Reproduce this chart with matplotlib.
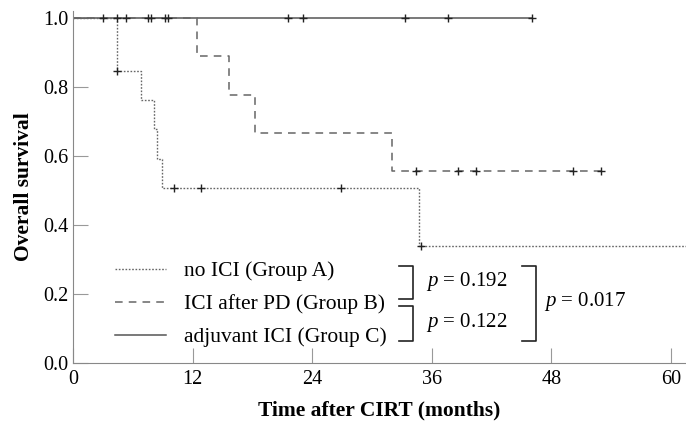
import matplotlib.pyplot as plt
from matplotlib.lines import Line2D

plt.rcParams["font.family"] = ["Liberation Serif", "DejaVu Serif"]
plt.rcParams["mathtext.fontset"] = "custom"
plt.rcParams["mathtext.it"] = "Liberation Serif:italic"
plt.rcParams["mathtext.rm"] = "Liberation Serif"

# Kaplan-Meier steps
a_times = [0, 4.4, 6.8, 8.1, 8.4, 8.9, 34.7, 61.5]
a_surv = [1.0, 0.846, 0.761, 0.677, 0.592, 0.507, 0.338, 0.338]
a_cens_t = [4.4, 10.1, 12.8, 26.9, 34.9]
a_cens_s = [0.846, 0.507, 0.507, 0.507, 0.338]

b_times = [0, 12.4, 15.7, 18.3, 32.0, 53.0]
b_surv = [1.0, 0.889, 0.778, 0.667, 0.556, 0.556]
b_cens_t = [34.4, 38.6, 40.4, 50.2, 53.0]
b_cens_s = [0.556, 0.556, 0.556, 0.556, 0.556]

c_times = [0, 46.1]
c_surv = [1.0, 1.0]
c_cens_t = [3.0, 4.4, 5.3, 7.5, 7.8, 9.2, 9.5, 21.6, 23.1, 33.3, 37.6, 46.1]
c_cens_s = [1.0] * len(c_cens_t)

labels = ["no ICI (Group A)", "ICI after PD (Group B)", "adjuvant ICI (Group C)"]
p_pair = ["$p$ = 0.192", "$p$ = 0.122"]
p_all = "$p$ = 0.017"

fig = plt.figure(figsize=(6.86, 4.21), dpi=100)
ax = fig.add_axes([0.1064, 0.1378, 0.8936, 0.836])

gray = "#666666"
ax.step(c_times, c_surv, where="post", color="#555555", lw=1.1, ls="-")
ax.step(b_times, b_surv, where="post", color=gray, lw=1.1, ls=(0, (5, 4)))
ax.step(a_times, a_surv, where="post", color=gray, lw=1.0, ls=(0, (1.2, 1.2)))
for t, s in [(a_cens_t, a_cens_s), (b_cens_t, b_cens_s), (c_cens_t, c_cens_s)]:
    ax.plot(t, s, ls="none", marker="+", color="#222222", ms=6, mew=1.0)

ax.set_xlim(0, 61.5)
ax.set_ylim(0, 1.02)
ax.set_xticks([0, 12, 24, 36, 48, 60])
ax.set_yticks([0.0, 0.2, 0.4, 0.6, 0.8, 1.0])
ax.set_yticklabels(["0.0", "0.2", "0.4", "0.6", "0.8", "1.0"])
ax.tick_params(direction="in", length=11, color="#999999", labelsize=14.5, pad=3)
ax.tick_params(axis="x", pad=5)
for side in ["top", "right"]:
    ax.spines[side].set_visible(False)
for side in ["left", "bottom"]:
    ax.spines[side].set_color("#888888")

ax.set_xlabel("Time after CIRT (months)", fontsize=15.5, fontweight="bold", labelpad=8)
ax.set_ylabel("Overall survival", fontsize=15.5, fontweight="bold", labelpad=7)

handles = [
    Line2D([], [], color=gray, lw=1.0, ls=(0, (1.2, 1.2))),
    Line2D([], [], color=gray, lw=1.1, ls=(0, (5, 4))),
    Line2D([], [], color="#555555", lw=1.1),
]
ax.legend(handles, labels, loc="lower left", bbox_to_anchor=(0.068, 0.045),
          frameon=False, fontsize=15.5, handlelength=2.4, handletextpad=0.8,
          labelspacing=0.6, borderpad=0, borderaxespad=0)

# brackets
bk = "#222222"
ax.plot([32.7, 34.1, 34.1, 32.7], [0.281, 0.281, 0.186, 0.186], color=bk, lw=1.2)
ax.plot([32.7, 34.1, 34.1, 32.7], [0.165, 0.165, 0.064, 0.064], color=bk, lw=1.2)
ax.plot([45.0, 46.5, 46.5, 45.0], [0.281, 0.281, 0.064, 0.064], color=bk, lw=1.2)
ax.text(35.4, 0.237, p_pair[0], fontsize=15, va="center", ha="left")
ax.text(35.4, 0.118, p_pair[1], fontsize=15, va="center", ha="left")
ax.text(47.3, 0.177, p_all, fontsize=15, va="center", ha="left")

fig.savefig("out.png", dpi=100)
